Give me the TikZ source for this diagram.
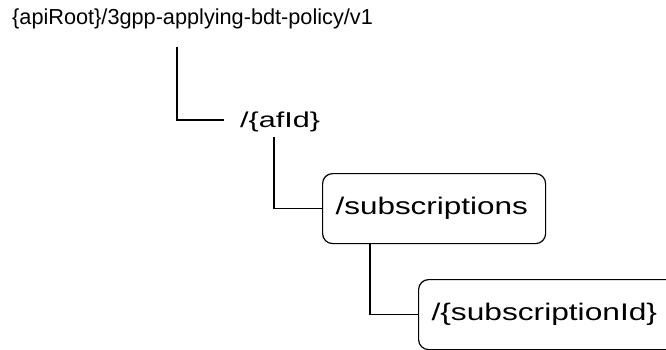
\documentclass[tikz,border=0pt]{standalone}
\usepackage{fontspec}
\setmainfont{Liberation Sans}
\begin{document}
\begin{tikzpicture}[x=1pt,y=-1pt,
  conn/.style={line width=1.2pt, black},
  lbl/.style={inner sep=0pt, anchor=base west},
  box/.style={draw, line width=1.2pt, rounded corners=10pt, anchor=north west,
    minimum height=70pt, inner xsep=13pt, inner ysep=0pt, align=left}]
\clip (0,0) rectangle (666,350);
\node[lbl] (root) at (12,25) {\fontsize{21.7}{26}\selectfont \{apiRoot\}/3gpp-applying-bdt-policy/v1};
\node[lbl] (afid) at (240,128) {\fontsize{21.5}{26}\selectfont\scalebox{1.42}[1]{/\{afId\}}};
\node[box, minimum width=223pt, text width=197pt] (subs) at (322,173)
  {\fontsize{24}{28}\selectfont\scalebox{1.31}[1]{/subscriptions}};
\node[box, minimum width=262pt, text width=236pt] (subid) at (418,279)
  {\fontsize{24}{28}\selectfont\scalebox{1.32}[1]{/\{subscriptionId\}}};
\coordinate (r1) at (177,47);
\coordinate (a1) at (274,137);
\draw[conn] (r1) |- ([xshift=-16pt,yshift=8pt]afid.base west);
\draw[conn] (a1) |- (subs.west);
\draw[conn] ([xshift=48pt]subs.south west) |- (subid.west);
\end{tikzpicture}
\end{document}
